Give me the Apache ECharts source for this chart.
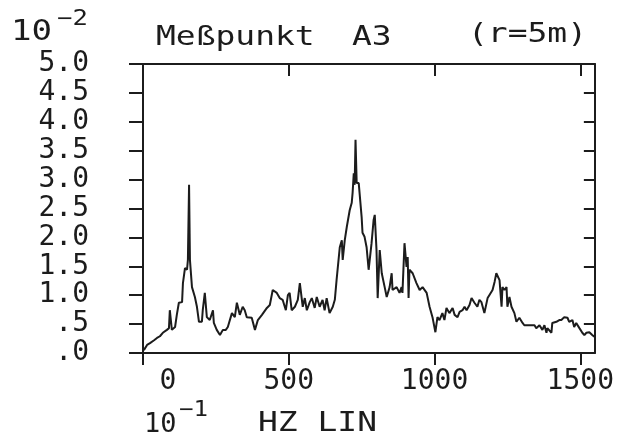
<!DOCTYPE html>
<html>
<head>
<meta charset="utf-8">
<script src="https://cdn.jsdelivr.net/npm/echarts@6/dist/echarts.min.js"></script>
<style>
html, body { margin: 0; padding: 0; background: #fff; }
#chart { width: 617px; height: 439px; }
</style>
</head>
<body>
<div id="chart"></div>
<script>
// Frequenz in 10^-1 Hz, Amplitude in 10^-2
var freq = [3, 14, 24, 38, 48, 58, 68, 82, 89, 92, 99, 110, 116, 123, 134, 137, 144, 151, 154, 158,
	161, 168, 178, 185, 192, 202, 205, 212, 219, 229, 240, 243, 253, 264, 274, 284, 291, 305, 315, 322,
	332, 342, 349, 356, 373, 384, 394, 408, 425, 435, 445, 459, 469, 479, 490, 497, 503, 510, 521, 531,
	538, 548, 555, 562, 572, 579, 589, 596, 606, 616, 623, 630, 640, 651, 658, 664, 675, 682, 685, 692,
	699, 709, 716, 719, 723, 726, 729, 733, 740, 750, 753, 760, 767, 774, 784, 791, 795, 801, 805, 812,
	819, 829, 836, 846, 853, 856, 870, 880, 887, 890, 897, 904, 908, 911, 914, 925, 938, 949, 959, 973,
	983, 993, 1003, 1010, 1017, 1027, 1034, 1041, 1051, 1062, 1069, 1079, 1086, 1096, 1103, 1110, 1120, 1127, 1137, 1147,
	1154, 1161, 1171, 1182, 1188, 1199, 1206, 1212, 1223, 1230, 1233, 1240, 1247, 1250, 1257, 1264, 1274, 1281, 1291, 1302,
	1308, 1325, 1343, 1349, 1360, 1370, 1377, 1384, 1387, 1401, 1404, 1418, 1428, 1435, 1445, 1456, 1462, 1473, 1479, 1486,
	1497, 1507, 1514, 1521, 1531, 1541, 1548];
var amp = [0.05, 0.14, 0.17, 0.22, 0.26, 0.29, 0.35, 0.40, 0.43, 0.74, 0.40, 0.45, 0.66, 0.87, 0.88, 1.21, 1.47, 1.44, 1.61, 2.91,
	1.61, 1.14, 0.97, 0.80, 0.54, 0.54, 0.74, 1.04, 0.62, 0.57, 0.74, 0.52, 0.40, 0.31, 0.40, 0.40, 0.45, 0.69, 0.62, 0.87,
	0.66, 0.80, 0.74, 0.62, 0.61, 0.40, 0.57, 0.66, 0.78, 0.83, 1.09, 1.04, 0.95, 0.92, 0.74, 1.00, 1.04, 0.74, 0.80, 0.92,
	1.21, 0.80, 0.95, 0.74, 0.88, 0.95, 0.78, 0.97, 0.80, 0.92, 0.74, 0.95, 0.69, 0.80, 0.92, 1.26, 1.83, 1.95, 1.61, 1.95,
	2.18, 2.47, 2.60, 2.77, 3.11, 2.91, 3.69, 2.94, 2.94, 2.35, 2.08, 2.01, 1.83, 1.44, 1.90, 2.30, 2.39, 1.78, 0.95, 1.78,
	1.38, 1.14, 0.97, 1.14, 1.38, 1.09, 1.14, 1.04, 1.14, 1.04, 1.90, 1.49, 1.66, 0.95, 1.44, 1.38, 1.21, 1.09, 1.14, 1.04,
	0.80, 0.62, 0.36, 0.62, 0.57, 0.69, 0.57, 0.78, 0.69, 0.78, 0.66, 0.62, 0.71, 0.74, 0.80, 0.74, 0.83, 0.95, 0.87, 0.80,
	0.92, 0.88, 0.69, 0.95, 1.00, 1.09, 1.23, 1.38, 1.26, 0.80, 1.14, 1.09, 1.14, 0.80, 0.97, 0.80, 0.69, 0.54, 0.61, 0.52,
	0.48, 0.48, 0.48, 0.43, 0.48, 0.40, 0.48, 0.35, 0.43, 0.35, 0.52, 0.54, 0.57, 0.57, 0.62, 0.61, 0.54, 0.57, 0.45, 0.52,
	0.43, 0.35, 0.31, 0.35, 0.36, 0.31, 0.28];

var xTicks = [0, 500, 1000, 1500];
var yTickLabels = ['.0', '.5', '1.0', '1.5', '2.0', '2.5', '3.0', '3.5', '4.0', '4.5', '5.0'];

var ink = '#1c1c1c';
var font = 'DejaVu Sans Mono';

var points = [];
for (var i = 0; i < freq.length; i++) {
	points.push([freq[i], amp[i]]);
}

// Plottertext etwas breiter ziehen
function label(txt, x, y, size, sx) {
	return {
		type: 'text', x: x, y: y, scaleX: sx || 1.22,
		style: { text: txt, font: size + 'px "' + font + '"', fill: ink }
	};
}

var myChart = echarts.init(document.getElementById('chart'));
var option = {
	backgroundColor: '#fff',
	animation: false,
	grid: { left: 143, right: 21, top: 64, bottom: 86 },
	graphic: [
		label('10', 11, 19, 28),
		label('−2', 57, 9, 21),
		label('Meßpunkt', 156, 24, 27),
		label('A3', 352, 24, 27),
		label('(r=5m)', 468, 21, 27),
		label('10', 144, 411, 27, 1),
		label('−1', 179, 400, 21, 1.15),
		label('HZ LIN', 258, 410, 27)
	],
	xAxis: [{
		type: 'value',
		position: 'bottom',
		min: 0,
		max: 1550,
		interval: 500,
		splitLine: { show: false },
		axisLine: { show: true, onZero: false, lineStyle: { color: ink, width: 2 } },
		axisTick: { show: true, inside: false, length: 12, lineStyle: { color: ink, width: 2 } },
		axisLabel: {
			show: true,
			margin: 15,
			showMaxLabel: false,
			color: ink,
			fontFamily: font,
			fontSize: 28,
			formatter: function(v) {
				if (xTicks.indexOf(v) < 0) return '';
				if (v === 0) return '{z|0}';
				return String(v);
			},
			rich: { z: { padding: [0, 0, 0, 50], fontFamily: font, fontSize: 28, color: ink } }
		}
	}, {
		type: 'value',
		position: 'top',
		min: 0,
		max: 1550,
		interval: 500,
		splitLine: { show: false },
		axisLine: { show: true, onZero: false, lineStyle: { color: ink, width: 2 } },
		axisTick: { show: true, inside: true, length: 12, lineStyle: { color: ink, width: 2 } },
		axisLabel: { show: false }
	}],
	yAxis: [{
		type: 'value',
		position: 'left',
		min: 0,
		max: 5,
		interval: 0.5,
		splitLine: { show: false },
		axisLine: { show: true, onZero: false, lineStyle: { color: ink, width: 2 } },
		axisTick: { show: true, inside: false, length: 14, lineStyle: { color: ink, width: 2 } },
		axisLabel: {
			margin: 54,
			color: ink,
			fontFamily: font,
			fontSize: 28,
			padding: [5, 0, 0, 0],
			formatter: function(v) {
				return yTickLabels[Math.round(v * 2)];
			}
		}
	}, {
		type: 'value',
		position: 'right',
		min: 0,
		max: 5,
		interval: 0.5,
		splitLine: { show: false },
		axisLine: { show: true, onZero: false, lineStyle: { color: ink, width: 2 } },
		axisTick: { show: true, inside: true, length: 11, lineStyle: { color: ink, width: 2 } },
		axisLabel: { show: false }
	}],
	series: [{
		type: 'line',
		xAxisIndex: 0,
		yAxisIndex: 0,
		showSymbol: false,
		lineStyle: { color: ink, width: 2 },
		data: points
	}]
};
myChart.setOption(option);
</script>
</body>
</html>
